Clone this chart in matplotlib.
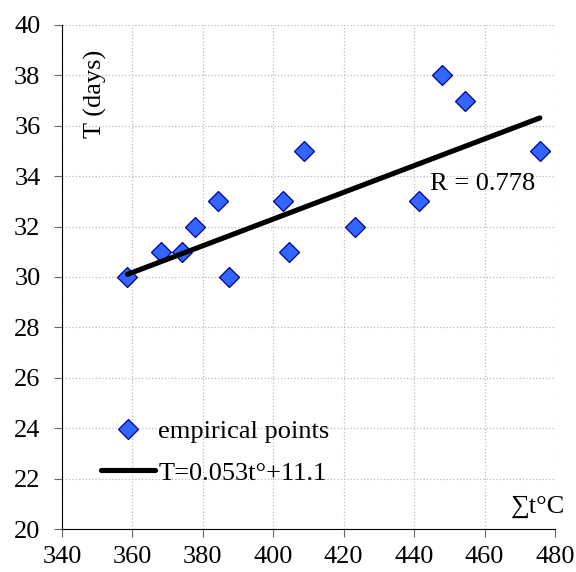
import numpy as np
import matplotlib
matplotlib.use('Agg')
import matplotlib.pyplot as plt

# empirical points: sum of temperatures vs duration
sum_t = [358.6, 368.2, 374.1, 377.7, 384.4, 387.4, 402.8, 404.5, 408.7,
         423.1, 441.3, 447.8, 454.4, 475.7]
days = [30, 31, 31, 32, 33, 30, 33, 31, 35, 32, 33, 38, 37, 35]

# regression T = 0.053 t + 11.1
slope = 0.053
intercept = 11.1

fonts = ['Liberation Serif', 'DejaVu Serif']
plt.rcParams['font.family'] = fonts

fig = plt.figure(figsize=(5.76, 5.72), dpi=100)
ax = fig.add_axes([62 / 576, 1 - 529 / 572, (555 - 62) / 576, (529 - 25) / 572])

fit_x = np.array([min(sum_t), max(sum_t)])
fit_y = slope * fit_x + intercept

ax.plot(sum_t, days, 'D', markersize=9.8, markerfacecolor='#3366ff',
        markeredgecolor='#000099', markeredgewidth=0.9, linestyle='none',
        label='empirical points', zorder=3)
ax.plot(fit_x, fit_y, color='black', linewidth=3.7, solid_capstyle='round',
        label='T=0.053t\u00b0+11.1', zorder=4)

ax.set_xlim(340, 480)
ax.set_ylim(20, 40)
ax.set_xticks(np.arange(340, 481, 20))
ax.set_yticks(np.arange(20, 41, 2))
ax.tick_params(labelsize=19, direction='out', length=5.5, width=0.8,
               color='#666666', labelcolor='black')
ax.tick_params(axis='y', pad=10)
ax.tick_params(axis='x', pad=7)
for lab in ax.get_xticklabels() + ax.get_yticklabels():
    lab.set_family(fonts)
ax.grid(True, color='#bbbbbb', linestyle=':', linewidth=0.9)
ax.spines['top'].set_visible(False)
ax.spines['right'].set_visible(False)

ax.text(0.067, 0.95, 'T (days)', transform=ax.transAxes, rotation=90,
        fontsize=19, ha='center', va='top', family=fonts)
ax.text(1.02, 0.022, '\u2211t\u00b0C', transform=ax.transAxes,
        fontsize=19, ha='right', va='bottom', family=fonts)
ax.text(444.5, 33.25, 'R = 0.778', fontsize=19, ha='left', va='bottom',
        family=fonts)

leg = ax.legend(loc='lower left', bbox_to_anchor=(0.079, 0.088), frameon=False,
                fontsize=19, handlelength=2.05, handletextpad=0.12,
                labelspacing=0.68, borderpad=0, borderaxespad=0)
for t in leg.get_texts():
    t.set_family(fonts)

fig.savefig('out.png', dpi=100)
